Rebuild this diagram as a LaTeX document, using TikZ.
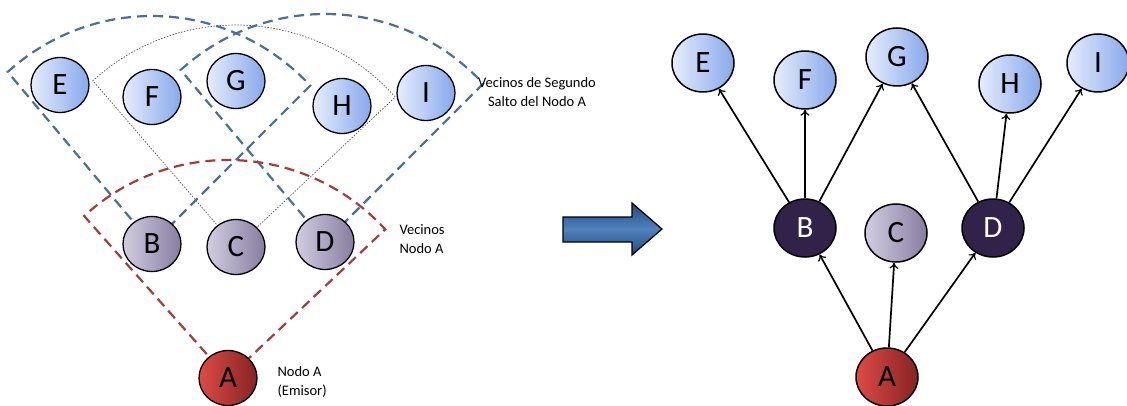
\documentclass[tikz,border=0pt]{standalone}
\usepackage{fontspec}
\setmainfont{Carlito}
\usetikzlibrary{shapes.geometric,arrows.meta}
\definecolor{blueL}{RGB}{230,237,252}
\definecolor{blueR}{RGB}{135,168,235}
\definecolor{grayL}{RGB}{210,205,225}
\definecolor{grayR}{RGB}{135,125,160}
\definecolor{redL}{RGB}{220,75,70}
\definecolor{redR}{RGB}{135,35,35}
\definecolor{darkP}{RGB}{48,34,72}
\definecolor{dashBlue}{RGB}{72,112,155}
\definecolor{dashRed}{RGB}{165,60,60}
\definecolor{arrDark}{RGB}{35,72,125}
\definecolor{arrLight}{RGB}{80,130,190}
\begin{document}
\begin{tikzpicture}[x=1pt,y=1pt,
  nd/.style={ellipse, draw=black, line width=1.3pt, minimum width=58pt, minimum height=55pt, inner sep=0pt, font=\fontsize{31}{31}\selectfont},
  ndr/.style={nd, line width=1.5pt, minimum width=62pt, minimum height=58pt},
  hoptwo/.style={left color=blueL, right color=blueR},
  hopone/.style={left color=grayL, right color=grayR},
  src/.style={left color=redL, right color=redR},
  sel/.style={fill=darkP, text=white},
  bdash/.style={draw=dashBlue, line width=2.2pt, dash pattern=on 10pt off 6pt},
  rdash/.style={draw=dashRed, line width=2.2pt, dash pattern=on 10pt off 6pt},
  gdot/.style={draw=black!65, line width=0.7pt, dash pattern=on 1.5pt off 1.5pt},
  arr/.style={-{To[length=6pt,width=9pt,line width=1.2pt]}, line width=1.7pt},
  lbl/.style={font=\fontsize{14.5}{19}\selectfont}
]
\useasboundingbox (0,0) rectangle (1127,405);
% centres of the left-hand nodes
\coordinate (pE) at (60,320);
\coordinate (pF) at (152,308);
\coordinate (pG) at (236,324);
\coordinate (pH) at (342,299);
\coordinate (pI) at (426,312);
\coordinate (pB) at (152,161);
\coordinate (pC) at (236,158);
\coordinate (pD) at (325,163);
\coordinate (pA) at (228,27);
% coverage sectors
\draw[gdot] (pC) -- ++(131.5:216pt and 222pt) arc[start angle=131.5, end angle=42.5, x radius=216pt, y radius=222pt] -- cycle;
\draw[bdash] (pB) -- ++(131:220pt and 228pt) arc[start angle=131, end angle=44, x radius=220pt, y radius=228pt] -- cycle;
\draw[bdash] (pD) -- ++(131:220pt and 228pt) arc[start angle=131, end angle=44, x radius=220pt, y radius=228pt] -- cycle;
\draw[rdash] (pA) -- ++(132:215pt and 218pt) arc[start angle=132, end angle=43, x radius=215pt, y radius=218pt] -- cycle;
% left nodes
\node[nd,hoptwo] (lE) at (pE) {E};
\node[nd,hoptwo] (lF) at (pF) {F};
\node[nd,hoptwo] (lG) at (pG) {G};
\node[nd,hoptwo] (lH) at (pH) {H};
\node[nd,hoptwo] (lI) at (pI) {I};
\node[nd,hopone] (lB) at (pB) {B};
\node[nd,hopone] (lC) at (pC) {C};
\node[nd,hopone] (lD) at (pD) {D};
\node[nd,src] (lA) at (pA) {A};
% left labels
\node[lbl, align=center] (t2) at (537,313) {Vecinos de Segundo\\Salto del Nodo A};
\node[lbl, align=left, anchor=west] (t1) at (396,166) {Vecinos\\Nodo A};
\node[lbl, align=left, anchor=west] (t0) at (274,23) {Nodo A\\(Emisor)};
% big arrow
\shade[top color=arrDark, bottom color=arrDark, middle color=arrLight, draw=black, line width=1.2pt]
  (563,188) -- (632,188) -- (632,202) -- (662,176) -- (632,150) -- (632,163) -- (563,163) -- cycle;
% right nodes
\node[ndr,hoptwo] (rE) at (703,342) {E};
\node[ndr,hoptwo] (rF) at (805,325) {F};
\node[ndr,hoptwo] (rG) at (897,348) {G};
\node[ndr,hoptwo] (rH) at (1010,321) {H};
\node[ndr,hoptwo] (rI) at (1098,342) {I};
\node[ndr,sel] (rB) at (805,177) {B};
\node[ndr,hopone] (rC) at (896,172) {C};
\node[ndr,sel] (rD) at (993,177) {D};
\node[ndr,src] (rA) at (887,28) {A};
% right connectors
\draw[arr] (rA) -- (rB);
\draw[arr] (rA) -- (rC);
\draw[arr] (rA) -- (rD);
\draw[arr] (rB) -- (rE);
\draw[arr] (rB) -- (rF);
\draw[arr] (rB) -- (rG);
\draw[arr] (rD) -- (rG);
\draw[arr] (rD) -- (rH);
\draw[arr] (rD) -- (rI);
\end{tikzpicture}
\end{document}
